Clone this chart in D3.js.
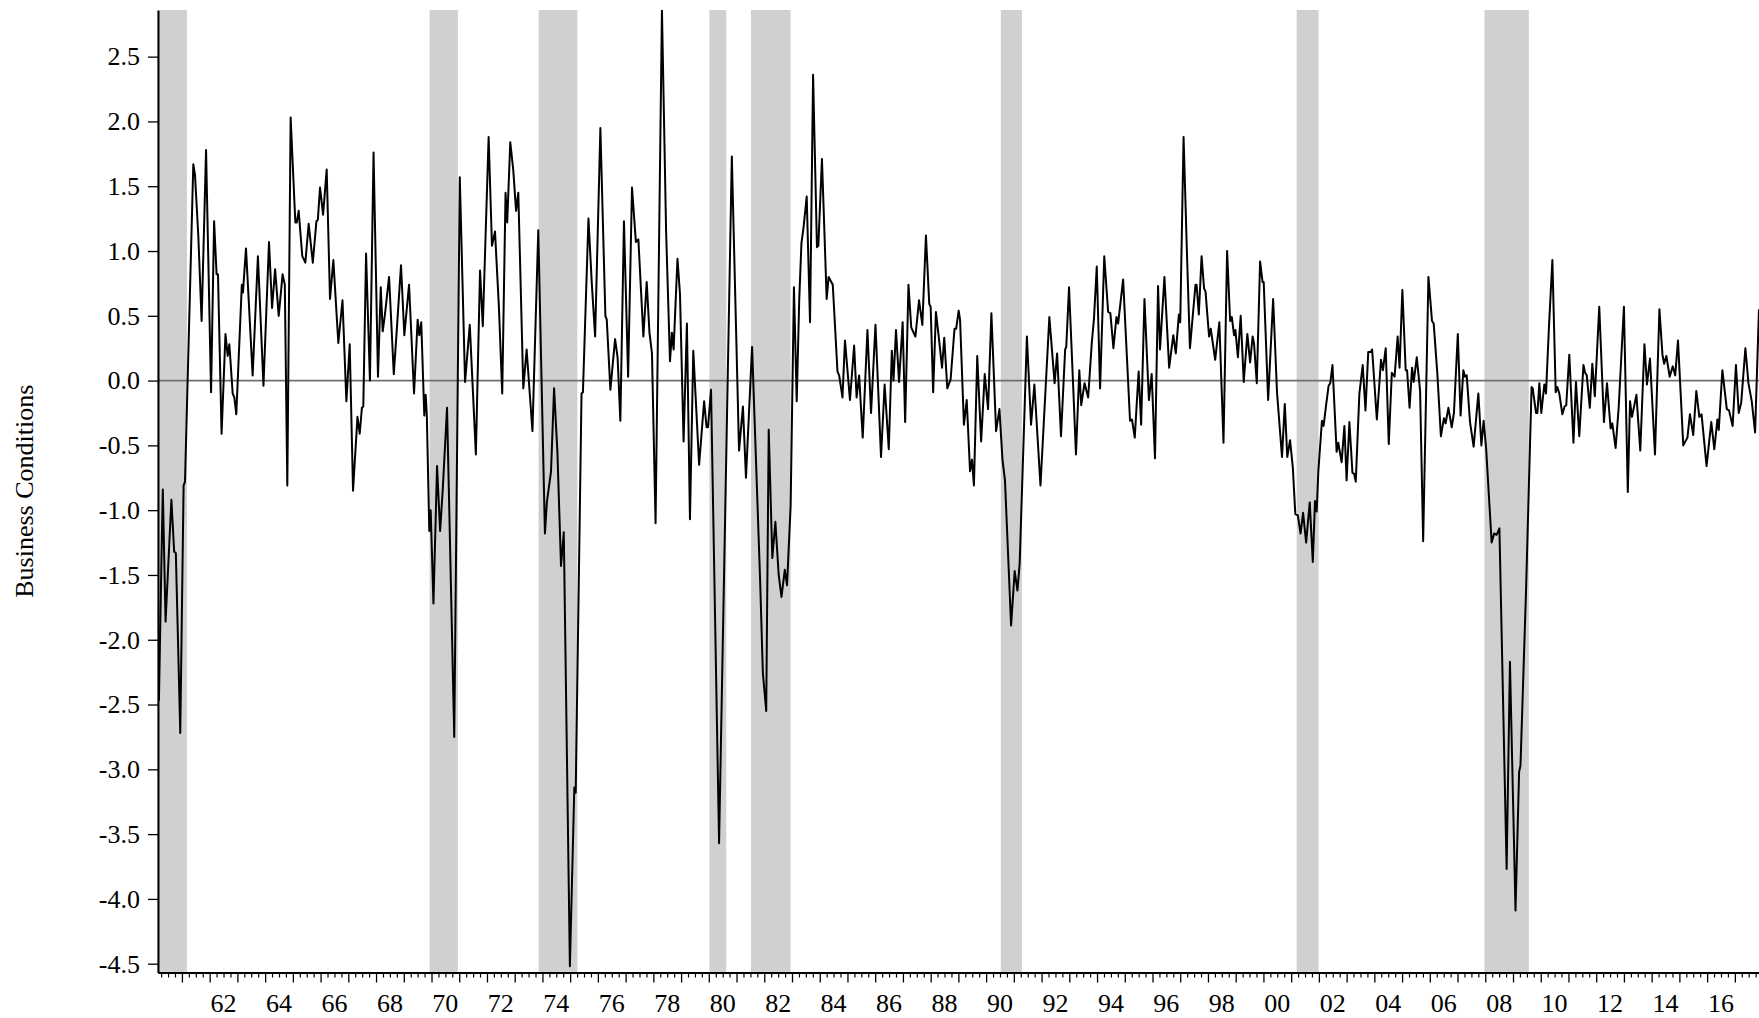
<!DOCTYPE html>
<html>
<head>
<meta charset="utf-8">
<script src="https://cdn.jsdelivr.net/npm/d3@7"></script>
<style>
  html, body { margin: 0; padding: 0; background: #fff; }
  svg { display: block; font-family: "Liberation Serif", "Times New Roman", serif; }
  .axis text { font-size: 26px; fill: #000; font-family: "Liberation Serif", "Times New Roman", serif; }
  .axis path, .axis line { stroke: #000; }
</style>
</head>
<body>
<svg class="svg-chart" width="1759" height="1018"></svg>
<script>
// recession periods (decimal years, as shaded)
const recessions = [
  [1960.21, 1961.18], [1969.93, 1970.95], [1973.86, 1975.26], [1980.02, 1980.63],
  [1981.52, 1982.95], [1990.53, 1991.29], [2001.20, 2001.99], [2007.97, 2009.57]
];

// y tick values and labelled years
const yTicks = [2.5, 2.0, 1.5, 1.0, 0.5, 0.0, -0.5, -1.0, -1.5, -2.0, -2.5, -3.0, -3.5, -4.0, -4.5];
const labelYears = [1962, 1964, 1966, 1968, 1970, 1972, 1974, 1976, 1978, 1980, 1982, 1984, 1986, 1988,
  1990, 1992, 1994, 1996, 1998, 2000, 2002, 2004, 2006, 2008, 2010, 2012, 2014, 2016];

// business conditions index (decimal year / value)
const obsDates = [
  1960.17, 1960.26, 1960.31, 1960.41, 1960.62, 1960.72, 1960.78, 1960.94, 1961.06, 1961.11,
  1961.41, 1961.47, 1961.59, 1961.71, 1961.87, 1962.05, 1962.16, 1962.25, 1962.30, 1962.43,
  1962.57, 1962.65, 1962.71, 1962.83, 1962.89, 1962.96, 1963.16, 1963.20, 1963.31, 1963.55,
  1963.74, 1963.94, 1964.14, 1964.25, 1964.36, 1964.49, 1964.63, 1964.71, 1964.80, 1964.92,
  1965.09, 1965.14, 1965.21, 1965.34, 1965.45, 1965.57, 1965.72, 1965.85, 1965.90, 1965.98,
  1966.09, 1966.22, 1966.34, 1966.46, 1966.64, 1966.79, 1966.93, 1967.05, 1967.17, 1967.33,
  1967.41, 1967.49, 1967.54, 1967.64, 1967.78, 1967.91, 1968.07, 1968.17, 1968.24, 1968.32,
  1968.47, 1968.64, 1968.76, 1968.90, 1969.02, 1969.19, 1969.37, 1969.50, 1969.56, 1969.63,
  1969.74, 1969.79, 1969.83, 1969.92, 1969.97, 1970.07, 1970.20, 1970.31, 1970.40, 1970.56,
  1970.82, 1971.02, 1971.21, 1971.38, 1971.60, 1971.75, 1971.85, 1972.06, 1972.18, 1972.29,
  1972.43, 1972.55, 1972.67, 1972.73, 1972.84, 1972.95, 1973.05, 1973.13, 1973.31, 1973.43,
  1973.64, 1973.85, 1974.09, 1974.16, 1974.31, 1974.42, 1974.54, 1974.67, 1974.77, 1974.99,
  1975.15, 1975.20, 1975.41, 1975.46, 1975.66, 1975.78, 1975.90, 1976.09, 1976.27, 1976.32,
  1976.45, 1976.62, 1976.71, 1976.81, 1976.94, 1977.09, 1977.23, 1977.37, 1977.46, 1977.64,
  1977.76, 1977.86, 1977.95, 1978.08, 1978.31, 1978.46, 1978.60, 1978.67, 1978.73, 1978.87,
  1978.96, 1979.09, 1979.21, 1979.32, 1979.44, 1979.65, 1979.83, 1979.92, 1979.97, 1980.08,
  1980.37, 1980.83, 1981.09, 1981.23, 1981.34, 1981.56, 1981.85, 1981.95, 1982.07, 1982.16,
  1982.29, 1982.40, 1982.52, 1982.62, 1982.74, 1982.82, 1982.95, 1983.07, 1983.17, 1983.26,
  1983.34, 1983.41, 1983.53, 1983.65, 1983.76, 1983.90, 1983.95, 1984.08, 1984.25, 1984.32,
  1984.47, 1984.64, 1984.70, 1984.82, 1984.91, 1985.09, 1985.24, 1985.33, 1985.42, 1985.55,
  1985.72, 1985.85, 1986.01, 1986.21, 1986.34, 1986.49, 1986.60, 1986.66, 1986.75, 1986.86,
  1986.99, 1987.08, 1987.20, 1987.30, 1987.45, 1987.58, 1987.70, 1987.83, 1987.95, 1988.00,
  1988.09, 1988.19, 1988.28, 1988.41, 1988.49, 1988.60, 1988.72, 1988.86, 1988.92, 1989.01,
  1989.06, 1989.20, 1989.30, 1989.42, 1989.49, 1989.56, 1989.68, 1989.82, 1989.95, 1990.07,
  1990.19, 1990.36, 1990.48, 1990.59, 1990.68, 1990.90, 1991.03, 1991.13, 1991.21, 1991.47,
  1991.62, 1991.74, 1991.96, 1992.28, 1992.47, 1992.56, 1992.70, 1992.85, 1992.89, 1992.99,
  1993.15, 1993.24, 1993.36, 1993.43, 1993.55, 1993.68, 1993.81, 1993.89, 1993.99, 1994.11,
  1994.26, 1994.40, 1994.48, 1994.59, 1994.70, 1994.76, 1994.94, 1995.19, 1995.26, 1995.36,
  1995.50, 1995.59, 1995.71, 1995.87, 1995.97, 1996.09, 1996.20, 1996.27, 1996.43, 1996.60,
  1996.75, 1996.84, 1996.95, 1997.00, 1997.12, 1997.25, 1997.35, 1997.55, 1997.59, 1997.67,
  1997.77, 1997.86, 1997.91, 1998.04, 1998.10, 1998.26, 1998.41, 1998.56, 1998.69, 1998.80,
  1998.86, 1998.94, 1998.99, 1999.08, 1999.18, 1999.29, 1999.42, 1999.52, 1999.61, 1999.66,
  1999.76, 1999.88, 1999.97, 2000.01, 2000.17, 2000.35, 2000.49, 2000.67, 2000.77, 2000.86,
  2000.96, 2001.06, 2001.15, 2001.24, 2001.34, 2001.43, 2001.54, 2001.67, 2001.78, 2001.86,
  2001.92, 2001.98, 2002.11, 2002.17, 2002.26, 2002.35, 2002.41, 2002.49, 2002.64, 2002.70,
  2002.82, 2002.92, 2003.00, 2003.10, 2003.21, 2003.27, 2003.33, 2003.46, 2003.58, 2003.68,
  2003.78, 2003.87, 2003.92, 2004.09, 2004.24, 2004.31, 2004.41, 2004.52, 2004.63, 2004.73,
  2004.84, 2004.91, 2005.01, 2005.13, 2005.18, 2005.27, 2005.36, 2005.42, 2005.53, 2005.65,
  2005.76, 2005.95, 2006.08, 2006.14, 2006.27, 2006.40, 2006.51, 2006.57, 2006.67, 2006.79,
  2006.87, 2007.01, 2007.11, 2007.21, 2007.27, 2007.33, 2007.45, 2007.58, 2007.75, 2007.86,
  2007.94, 2008.03, 2008.23, 2008.32, 2008.41, 2008.51, 2008.77, 2008.89, 2009.09, 2009.22,
  2009.27, 2009.47, 2009.67, 2009.71, 2009.83, 2009.88, 2009.95, 2010.02, 2010.13, 2010.19,
  2010.30, 2010.42, 2010.54, 2010.60, 2010.67, 2010.78, 2010.86, 2010.92, 2011.03, 2011.18,
  2011.27, 2011.39, 2011.54, 2011.60, 2011.66, 2011.77, 2011.86, 2011.95, 2012.11, 2012.28,
  2012.39, 2012.52, 2012.58, 2012.70, 2012.81, 2013.00, 2013.14, 2013.22, 2013.29, 2013.45,
  2013.59, 2013.74, 2013.83, 2013.94, 2014.12, 2014.28, 2014.39, 2014.45, 2014.53, 2014.65,
  2014.76, 2014.85, 2014.95, 2015.14, 2015.29, 2015.38, 2015.50, 2015.61, 2015.72, 2015.80,
  2015.98, 2016.15, 2016.26, 2016.37, 2016.42, 2016.55, 2016.71, 2016.79, 2016.92, 2017.04,
  2017.14, 2017.23, 2017.38, 2017.49, 2017.61, 2017.73, 2017.87
];
const obsValues = [
  -2.47, -1.40, -0.84, -1.86, -0.92, -1.32, -1.33, -2.72, -0.81, -0.78,
  1.67, 1.59, 1.12, 0.46, 1.78, -0.09, 1.23, 0.82, 0.82, -0.41,
  0.36, 0.19, 0.28, -0.10, -0.13, -0.26, 0.74, 0.68, 1.02, 0.04,
  0.96, -0.04, 1.07, 0.56, 0.86, 0.50, 0.82, 0.74, -0.81, 2.03,
  1.22, 1.22, 1.31, 0.96, 0.91, 1.21, 0.91, 1.23, 1.24, 1.49,
  1.28, 1.63, 0.63, 0.93, 0.29, 0.62, -0.16, 0.28, -0.85, -0.28,
  -0.41, -0.21, -0.20, 0.98, 0.00, 1.76, 0.03, 0.72, 0.38, 0.51,
  0.80, 0.05, 0.43, 0.89, 0.35, 0.74, -0.10, 0.47, 0.35, 0.45,
  -0.27, -0.11, -0.26, -1.16, -1.00, -1.72, -0.66, -1.16, -0.86, -0.21,
  -2.75, 1.57, -0.01, 0.43, -0.57, 0.85, 0.42, 1.88, 1.04, 1.15,
  0.57, -0.10, 1.45, 1.22, 1.84, 1.62, 1.31, 1.45, -0.06, 0.24,
  -0.39, 1.16, -1.18, -0.94, -0.70, -0.06, -0.55, -1.43, -1.17, -4.52,
  -3.14, -3.18, -0.10, -0.09, 1.25, 0.75, 0.34, 1.95, 0.50, 0.47,
  -0.07, 0.32, 0.18, -0.31, 1.23, 0.03, 1.49, 1.07, 1.09, 0.34,
  0.76, 0.37, 0.21, -1.10, 2.86, 1.15, 0.15, 0.37, 0.24, 0.94,
  0.67, -0.47, 0.44, -1.07, 0.23, -0.65, -0.16, -0.36, -0.36, -0.07,
  -3.57, 1.73, -0.54, -0.20, -0.75, 0.26, -1.54, -2.26, -2.55, -0.38,
  -1.37, -1.09, -1.50, -1.67, -1.46, -1.58, -0.97, 0.72, -0.16, 0.62,
  1.06, 1.17, 1.42, 0.45, 2.36, 1.03, 1.04, 1.71, 0.63, 0.80,
  0.74, 0.07, 0.04, -0.13, 0.31, -0.15, 0.27, -0.13, 0.04, -0.44,
  0.39, -0.25, 0.43, -0.59, -0.03, -0.53, 0.23, 0.00, 0.39, -0.01,
  0.45, -0.32, 0.74, 0.41, 0.34, 0.62, 0.43, 1.12, 0.59, 0.57,
  -0.09, 0.53, 0.36, 0.10, 0.33, -0.06, 0.01, 0.40, 0.40, 0.54,
  0.47, -0.34, -0.15, -0.70, -0.61, -0.81, 0.19, -0.47, 0.05, -0.22,
  0.52, -0.39, -0.22, -0.61, -0.77, -1.89, -1.47, -1.62, -1.41, 0.34,
  -0.34, -0.03, -0.81, 0.49, -0.02, 0.21, -0.43, 0.24, 0.26, 0.72,
  -0.10, -0.57, 0.08, -0.19, -0.02, -0.13, 0.29, 0.48, 0.88, -0.06,
  0.96, 0.53, 0.52, 0.25, 0.49, 0.44, 0.78, -0.31, -0.30, -0.44,
  0.07, -0.34, 0.63, -0.15, 0.05, -0.60, 0.73, 0.24, 0.80, 0.10,
  0.35, 0.21, 0.51, 0.45, 1.88, 0.93, 0.25, 0.74, 0.74, 0.51,
  0.96, 0.71, 0.69, 0.34, 0.40, 0.16, 0.45, -0.48, 1.00, 0.46,
  0.49, 0.35, 0.39, 0.18, 0.50, -0.01, 0.36, 0.14, 0.34, 0.29,
  -0.02, 0.92, 0.76, 0.76, -0.15, 0.63, -0.09, -0.59, -0.18, -0.59,
  -0.46, -0.67, -1.03, -1.04, -1.18, -1.02, -1.25, -0.94, -1.40, -0.93,
  -1.01, -0.70, -0.31, -0.35, -0.19, -0.04, -0.02, 0.12, -0.55, -0.48,
  -0.63, -0.35, -0.77, -0.32, -0.71, -0.72, -0.78, -0.10, 0.12, -0.23,
  0.22, 0.22, 0.24, -0.30, 0.16, 0.08, 0.25, -0.49, 0.06, 0.03,
  0.34, 0.10, 0.70, 0.08, 0.08, -0.21, 0.10, -0.01, 0.18, -0.08,
  -1.24, 0.80, 0.46, 0.44, 0.06, -0.43, -0.29, -0.33, -0.21, -0.36,
  -0.25, 0.36, -0.27, 0.08, 0.03, 0.04, -0.32, -0.51, -0.10, -0.50,
  -0.31, -0.52, -1.25, -1.18, -1.19, -1.14, -3.77, -2.17, -4.09, -3.02,
  -2.97, -1.62, -0.05, -0.06, -0.25, -0.25, -0.02, -0.25, -0.03, -0.10,
  0.43, 0.93, -0.09, -0.05, -0.10, -0.26, -0.20, -0.19, 0.20, -0.48,
  -0.01, -0.43, 0.12, 0.06, 0.04, -0.21, 0.13, -0.12, 0.57, -0.32,
  -0.02, -0.37, -0.33, -0.52, -0.21, 0.57, -0.86, -0.16, -0.28, -0.11,
  -0.54, 0.28, -0.03, 0.17, -0.57, 0.55, 0.20, 0.13, 0.19, 0.03,
  0.11, 0.04, 0.31, -0.50, -0.44, -0.26, -0.42, -0.08, -0.28, -0.26,
  -0.66, -0.32, -0.53, -0.30, -0.38, 0.08, -0.22, -0.23, -0.35, 0.12,
  -0.25, -0.17, 0.25, -0.02, -0.16, -0.40, 0.55
];

const svg = d3.select('.svg-chart');
const plotLeft = 158, plotRight = 1759, plotTop = 10, plotBottom = 972.5;

const x = d3.scaleLinear().domain([1960.137, 2017.871]).range([plotLeft, plotRight]);
const y = d3.scaleLinear().domain([-4.568, 2.86]).range([plotBottom, plotTop]);

const data = obsDates.map((d, i) => ({ date: d, value: obsValues[i] }));

svg.append('defs').append('clipPath').attr('id', 'clip')
  .append('rect')
  .attr('x', plotLeft).attr('y', plotTop)
  .attr('width', plotRight - plotLeft).attr('height', plotBottom - plotTop);

const plot = svg.append('g').attr('clip-path', 'url(#clip)');

// recession shading
plot.selectAll('rect.rec')
  .data(recessions)
  .enter()
  .append('rect')
  .attr('class', 'rec')
  .attr('x', d => x(d[0]))
  .attr('y', plotTop)
  .attr('width', d => x(d[1]) - x(d[0]))
  .attr('height', plotBottom - plotTop)
  .attr('fill', '#d0d0d0');

// zero line
plot.append('line')
  .attr('x1', plotLeft).attr('x2', plotRight)
  .attr('y1', y(0)).attr('y2', y(0))
  .attr('stroke', '#707070')
  .attr('stroke-width', 1.6);

const valueline = d3.line()
  .x(d => x(d.date))
  .y(d => y(d.value));

plot.append('path')
  .datum(data)
  .attr('d', valueline)
  .attr('fill', 'none')
  .attr('stroke', '#000')
  .attr('stroke-width', 2)
  .attr('stroke-linejoin', 'round');

// y axis
const yAxis = d3.axisLeft(y)
  .tickValues(yTicks)
  .tickSize(10)
  .tickSizeOuter(0)
  .tickPadding(8)
  .tickFormat(d => d.toFixed(1));

const gy = svg.append('g')
  .attr('class', 'axis axis--y')
  .attr('transform', 'translate(' + plotLeft + ',0)')
  .call(yAxis);
gy.select('.domain').attr('stroke-width', 2.2);
gy.selectAll('.tick line').attr('stroke-width', 1.3);

// x axis: year ticks and quarter ticks
const years = d3.range(1961, 2018);
const quarters = [];
d3.range(1960, 2018).forEach(yr => [0.25, 0.5, 0.75].forEach(q => {
  if (yr + q > 1960.137 && yr + q < 2017.871) quarters.push(yr + q);
}));

const gxMinor = svg.append('g')
  .attr('class', 'axis axis--x-minor')
  .attr('transform', 'translate(0,' + plotBottom + ')')
  .call(d3.axisBottom(x).tickValues(quarters).tickSize(5).tickSizeOuter(0).tickFormat(''));
gxMinor.selectAll('.tick line').attr('stroke-width', 1.2);

const gx = svg.append('g')
  .attr('class', 'axis axis--x')
  .attr('transform', 'translate(0,' + plotBottom + ')')
  .call(d3.axisBottom(x).tickValues(years).tickSize(10).tickSizeOuter(0).tickFormat(''));
gx.select('.domain').attr('stroke-width', 2.2);
gx.selectAll('.tick line').attr('stroke-width', 1.3);

svg.append('g')
  .attr('class', 'axis')
  .selectAll('text')
  .data(labelYears)
  .enter()
  .append('text')
  .attr('x', d => x(d + 0.5))
  .attr('y', 1012)
  .attr('text-anchor', 'middle')
  .text(d => String(d % 100).padStart(2, '0'));

// y axis title
svg.append('text')
  .attr('transform', 'translate(33,' + ((plotTop + plotBottom) / 2) + ') rotate(-90)')
  .attr('text-anchor', 'middle')
  .attr('font-size', 26)
  .attr('fill', '#000')
  .text('Business Conditions');
</script>
</body>
</html>
